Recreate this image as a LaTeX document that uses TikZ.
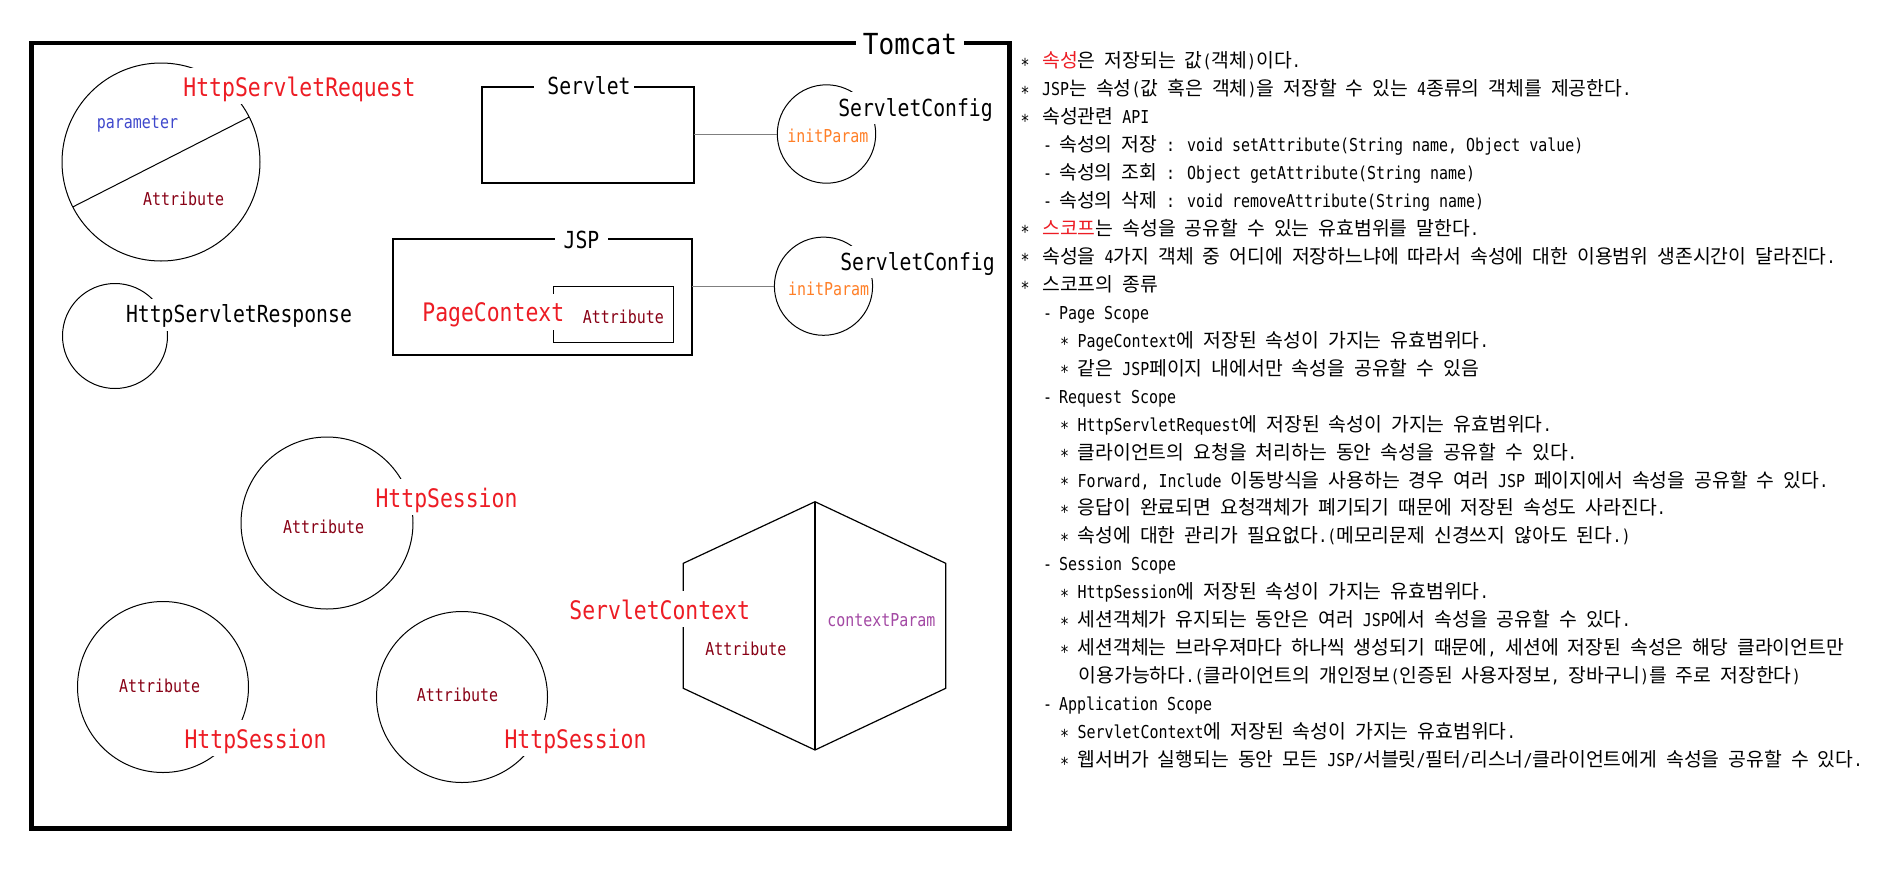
\documentclass[tikz,border=0pt]{standalone}
\usepackage{fontspec}
\setmainfont{DejaVu Sans Mono}[FakeStretch=0.84]
\newfontfamily\krfont{Noto Sans CJK KR}[Scale=1.087]
\newfontfamily\tomfont{DejaVu Sans Mono}[FakeStretch=0.9]
% automatic switch to the Korean font for Hangul syllables
\newcommand\krsw{\krfont\fontdimen2\font=0.4652em\relax}
\XeTeXinterchartokenstate=1
\chardef\hgclass=77
\newcount\hgcnt
\hgcnt="AC00
\loop
\XeTeXcharclass\hgcnt=\hgclass
\ifnum\hgcnt<"D7A3
\advance\hgcnt by 1
\repeat
\XeTeXinterchartoks 0 \hgclass = {\krsw}
\XeTeXinterchartoks 1 \hgclass = {\krsw}
\XeTeXinterchartoks 2 \hgclass = {\krsw}
\XeTeXinterchartoks 3 \hgclass = {\krsw}
\XeTeXinterchartoks 4095 \hgclass = {\krsw}
\XeTeXinterchartoks \hgclass 0 = {\normalfont}
\XeTeXinterchartoks \hgclass 1 = {\normalfont}
\XeTeXinterchartoks \hgclass 2 = {\normalfont}
\XeTeXinterchartoks \hgclass 3 = {\normalfont}
\XeTeXinterchartoks \hgclass 4095 = {\normalfont}

\definecolor{lblred}{HTML}{ED1C24}
\definecolor{attrred}{HTML}{880015}
\definecolor{parblue}{HTML}{3F48CC}
\definecolor{iporange}{HTML}{FF7F27}
\definecolor{cppurple}{HTML}{A349A4}
\definecolor{linegray}{HTML}{7F7F7F}

\tikzset{
  circ/.style={draw, circle, inner sep=0pt, outer sep=0pt, line width=1pt},
  boxst/.style={draw, rectangle, inner sep=0pt, outer sep=0pt, line width=1.5pt},
  redlbl/.style={fill=white, anchor=base, text=lblred, font=\fontsize{25.5}{26}\selectfont,
    inner xsep=3pt, inner ysep=1pt, text height=27pt, text depth=7pt},
  blklbl/.style={fill=white, anchor=base, text=black, font=\fontsize{23.5}{24}\selectfont,
    inner xsep=3pt, inner ysep=1pt, text height=23pt, text depth=7pt},
  smlbl/.style={anchor=base, inner sep=0pt, font=\fontsize{17.8}{18}\selectfont},
  attr/.style={smlbl, text=attrred},
  txt/.style={anchor=base west, inner sep=0pt, font=\fontsize{17.8}{20}\selectfont},
  grayline/.style={draw=linegray, line width=1pt}
}

\newcommand\plA[3]{\node[txt] (#1) at (1042,{67.6+27.96*(#2-1)}) {\llap{\makebox[9pt]{\raisebox{-0.2em}{*}}\hspace*{12.5pt}}#3};}
\newcommand\plB[3]{\node[txt] (#1) at (1059,{67.6+27.96*(#2-1)}) {\llap{\makebox[9pt]{-}\hspace*{7pt}}#3};}
\newcommand\plC[3]{\node[txt] (#1) at (1077.5,{67.6+27.96*(#2-1)}) {\llap{\makebox[9pt]{\raisebox{-0.2em}{*}}\hspace*{8.5pt}}#3};}
\newcommand\plD[3]{\node[txt] (#1) at (1078.5,{67.6+27.96*(#2-1)}) {#3};}

\begin{document}
\begin{tikzpicture}[x=1pt,y=-1pt]
\useasboundingbox (0,0) rectangle (1898,868);
\fill[white] (0,0) rectangle (1898,868);

% Tomcat frame
\draw[line width=4.6pt] (31.7,43) rectangle (1009.5,828.5);

% HttpServletRequest
\node[circ, minimum size=198pt] (req) at (161,162) {};
\draw[line width=1pt] (req.207) -- (req.27);

% HttpServletResponse
\node[circ, minimum size=105pt] (resp) at (115,336) {};

% Servlet box + ServletConfig
\node[boxst, minimum width=212pt, minimum height=96pt] (servlet) at (588,135) {};
\node[circ, minimum size=98.4pt] (cfg1) at (826.5,134) {};
\draw[grayline] (cfg1.west) -- (cfg1.west -| servlet.east);

% JSP box + PageContext + ServletConfig
\node[boxst, minimum width=299pt, minimum height=116pt] (jsp) at (542.5,297) {};
\node[boxst, line width=1.3pt, minimum width=120pt, minimum height=55.6pt] (pattr) at (613.3,314.5) {};
\node[circ, minimum size=98.2pt] (cfg2) at (823.5,286.2) {};
\draw[grayline] (cfg2.west) -- (cfg2.west -| jsp.east);

% HttpSession circles
\node[circ, minimum size=172pt] (sesA) at (327,523) {};
\node[circ, minimum size=171pt] (sesB) at (163,687) {};
\node[circ, minimum size=171pt] (sesC) at (462,697) {};

% ServletContext hexagon
\coordinate (hT) at (815,501.7);
\coordinate (hUL) at (683.3,563.3);
\coordinate (hLL) at (683.3,688.3);
\coordinate (hB) at (815,750);
\coordinate (hLR) at (945.7,688.3);
\coordinate (hUR) at (945.7,563.3);
\draw[line width=1.2pt, line join=miter] (hT) -- (hUL) -- (hLL) -- (hB) -- (hLR) -- (hUR) -- cycle;
\draw[line width=1.2pt] (hT) -- (hB);

% labels
\node[fill=white, anchor=base, font=\tomfont\fontsize{29}{30}\selectfont, inner xsep=7pt, inner ysep=2pt] (tomcat) at (910,54) {Tomcat};

\node[redlbl] (reqlbl) at (299.5,96) {HttpServletRequest};
\node[smlbl, text=parblue] (reqpar) at (137.5,128.3) {parameter};
\node[attr] (reqattr) at (183.7,205) {Attribute};

\node[blklbl] (resplbl) at (239,322.7) {HttpServletResponse};

\node[blklbl] (servletlbl) at (584,94) {\hspace*{10pt}Servlet};
\node[blklbl] (cfg1lbl) at (915.5,116) {ServletConfig};
\node[smlbl, text=iporange] (cfg1par) at (827.8,142.7) {initParam};

\node[blklbl, inner xsep=8.7pt] (jsplbl) at (581.5,248.3) {JSP};
\node[redlbl] (pclbl) at (493.3,321.7) {PageContext};
\node[attr] (pcattr) at (623.3,323.3) {Attribute};
\node[blklbl] (cfg2lbl) at (917.5,270) {ServletConfig};
\node[smlbl, text=iporange] (cfg2par) at (828.5,295) {initParam};

\node[redlbl] (sesAlbl) at (446.5,507.3) {HttpSession};
\node[attr] (sesAattr) at (323.7,533.3) {Attribute};
\node[redlbl] (sesBlbl) at (255.5,748.3) {HttpSession};
\node[attr] (sesBattr) at (159.7,692.3) {Attribute};
\node[redlbl] (sesClbl) at (575.5,748.3) {HttpSession};
\node[attr] (sesCattr) at (457.5,701.7) {Attribute};

\node[redlbl] (sclbl) at (659.7,619.3) {ServletContext};
\node[attr] (scattr) at (745.8,655) {Attribute};
\node[smlbl, text=cppurple] (scpar) at (881.3,626.7) {contextParam};

% notes
\plA{t1}{1}{{\color{lblred}속성}은 저장되는 값(객체)이다.}
\plA{t2}{2}{JSP는 속성(값 혹은 객체)을 저장할 수 있는 4종류의 객체를 제공한다.}
\plA{t3}{3}{속성관련 API}
\plB{t4}{4}{속성의 저장 : void setAttribute(String name, Object value)}
\plB{t5}{5}{속성의 조회 : Object getAttribute(String name)}
\plB{t6}{6}{속성의 삭제 : void removeAttribute(String name)}
\plA{t7}{7}{{\color{lblred}스코프}는 속성을 공유할 수 있는 유효범위를 말한다.}
\plA{t8}{8}{속성을 4가지 객체 중 어디에 저장하느냐에 따라서 속성에 대한 이용범위 생존시간이 달라진다.}
\plA{t9}{9}{스코프의 종류}
\plB{t10}{10}{Page Scope}
\plC{t11}{11}{PageContext에 저장된 속성이 가지는 유효범위다.}
\plC{t12}{12}{같은 JSP페이지 내에서만 속성을 공유할 수 있음}
\plB{t13}{13}{Request Scope}
\plC{t14}{14}{HttpServletRequest에 저장된 속성이 가지는 유효범위다.}
\plC{t15}{15}{클라이언트의 요청을 처리하는 동안 속성을 공유할 수 있다.}
\plC{t16}{16}{Forward, Include 이동방식을 사용하는 경우 여러 JSP 페이지에서 속성을 공유할 수 있다.}
\plC{t17}{17}{응답이 완료되면 요청객체가 폐기되기 때문에 저장된 속성도 사라진다.}
\plC{t18}{18}{속성에 대한 관리가 필요없다.(메모리문제 신경쓰지 않아도 된다.)}
\plB{t19}{19}{Session Scope}
\plC{t20}{20}{HttpSession에 저장된 속성이 가지는 유효범위다.}
\plC{t21}{21}{세션객체가 유지되는 동안은 여러 JSP에서 속성을 공유할 수 있다.}
\plC{t22}{22}{세션객체는 브라우져마다 하나씩 생성되기 때문에, 세션에 저장된 속성은 해당 클라이언트만}
\plD{t23}{23}{이용가능하다.(클라이언트의 개인정보(인증된 사용자정보, 장바구니)를 주로 저장한다)}
\plB{t24}{24}{Application Scope}
\plC{t25}{25}{ServletContext에 저장된 속성이 가지는 유효범위다.}
\plC{t26}{26}{웹서버가 실행되는 동안 모든 JSP/서블릿/필터/리스너/클라이언트에게 속성을 공유할 수 있다.}
\end{tikzpicture}
\end{document}
